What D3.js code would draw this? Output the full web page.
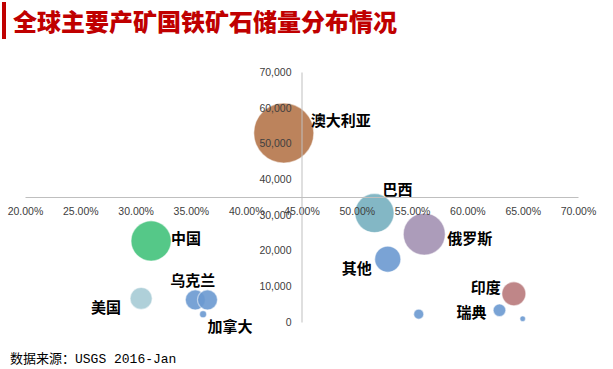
<!DOCTYPE html>
<html><head><meta charset="utf-8">
<script src="https://cdn.jsdelivr.net/npm/d3@7"></script>
<style>
html,body{margin:0;padding:0;background:#fff;}
svg{display:block;}
</style>
</head><body>
<svg id="chart" width="613" height="369"></svg>
<script>
// ---- data ----
const countries = ["澳大利亚","巴西","俄罗斯","其他","中国","美国","乌克兰","加拿大","哈萨克斯坦","印度","瑞典","伊朗","南非"];
const grade = [43.4, 51.6, 56.1, 52.8, 31.4, 30.5, 35.4, 36.5, 36.1, 64.2, 62.9, 55.6, 65.0];       // %
const reserves = [52900, 30500, 24600, 17600, 22700, 6600, 6200, 6200, 2200, 7900, 3300, 2200, 900]; // Mt
const bubbleSize = [17000, 7200, 8300, 3200, 7600, 2300, 1900, 1900, 230, 2700, 750, 470, 150];
const xTicks = [20, 25, 30, 35, 40, 45, 50, 55, 60, 65, 70];
const yTicks = [0, 10000, 20000, 30000, 40000, 50000, 60000, 70000];
const titleText = "全球主要产矿国铁矿石储量分布情况";
const sourceText = "数据来源：USGS 2016-Jan";

// ---- styles / layout ----
const colors = {"澳大利亚":"#b5764a","巴西":"#76afbf","俄罗斯":"#a391b3","其他":"#6c99d0","中国":"#43c27b",
  "美国":"#a6cbd5","乌克兰":"#6a99d0","加拿大":"#6a99d0","哈萨克斯坦":"#6a99d0","印度":"#b8797b",
  "瑞典":"#6a99d0","伊朗":"#6a99d0","南非":"#6a99d0"};
// label placement relative to bubble center: [dx, dy, anchor]
const labelPos = {"澳大利亚":[27,-14,"start"],"巴西":[8,-25,"start"],"俄罗斯":[23,3,"start"],
  "其他":[-16,8,"end"],"中国":[20,-3,"start"],"美国":[-20,8,"end"],"乌克兰":[-25,-20,"start"],
  "加拿大":[0,26,"start"],"印度":[-13,-7,"end"],"瑞典":[-13,1,"end"]};

const svg = d3.select("#chart");
const x = d3.scaleLinear().domain([20, 70]).range([25, 578]);
const y = d3.scaleLinear().domain([0, 70000]).range([322, 72]);
const r = d3.scaleSqrt().domain([0, d3.max(bubbleSize)]).range([0, 30]);

// title
svg.append("rect").attr("x", 2).attr("y", 2).attr("width", 4).attr("height", 37).attr("fill", "#c00000");
svg.append("text").attr("x", 13).attr("y", 31).text(titleText)
  .attr("font-family", "'Noto Sans CJK SC', sans-serif").attr("font-weight", 900)
  .attr("font-size", 24).attr("fill", "#c00000");

// bubbles
const data = countries.map((c, i) => ({name: c, gx: grade[i], ry: reserves[i], s: bubbleSize[i]}));
const order = data.slice().sort((a, b) => b.s - a.s);
svg.append("g").selectAll("circle").data(order).join("circle")
  .attr("cx", d => x(d.gx)).attr("cy", d => y(d.ry)).attr("r", d => r(d.s))
  .attr("fill", d => colors[d.name]).attr("fill-opacity", 0.9)
  .attr("stroke", "#ffffff").attr("stroke-opacity", 0.5).attr("stroke-width", 1.2);

// axes (drawn above bubbles, as in the reference)
const tickFont = "'Liberation Sans', Arial, sans-serif";
const xAxis = svg.append("g").attr("transform", `translate(0,${y(35000)})`)
  .call(d3.axisBottom(x).tickValues(xTicks).tickSize(0).tickPadding(11).tickFormat(d => d3.format(".2f")(d) + "%"));
const yAxis = svg.append("g").attr("transform", `translate(${x(45)},0)`)
  .call(d3.axisLeft(y).tickValues(yTicks).tickSize(0).tickPadding(10).tickFormat(d3.format(",")));
[xAxis, yAxis].forEach(g => {
  g.select(".domain").attr("stroke", "#bfbfbf").attr("stroke-width", 1);
  g.selectAll("text").attr("font-family", tickFont).attr("font-size", 10.5).attr("fill", "#404040");
});

// labels
svg.append("g").selectAll("text").data(data.filter(d => labelPos[d.name])).join("text")
  .attr("x", d => x(d.gx) + labelPos[d.name][0])
  .attr("y", d => y(d.ry) + labelPos[d.name][1])
  .attr("text-anchor", d => labelPos[d.name][2])
  .attr("dominant-baseline", "central")
  .attr("font-family", "'Noto Sans CJK SC', sans-serif").attr("font-weight", 700)
  .attr("font-size", 15).attr("fill", "#000").text(d => d.name);

// source
svg.append("text").attr("x", 10).attr("y", 363).text(sourceText)
  .attr("font-family", "'Liberation Mono', 'Noto Sans CJK SC', monospace")
  .attr("font-size", 13).attr("fill", "#000");
</script>
</body></html>
